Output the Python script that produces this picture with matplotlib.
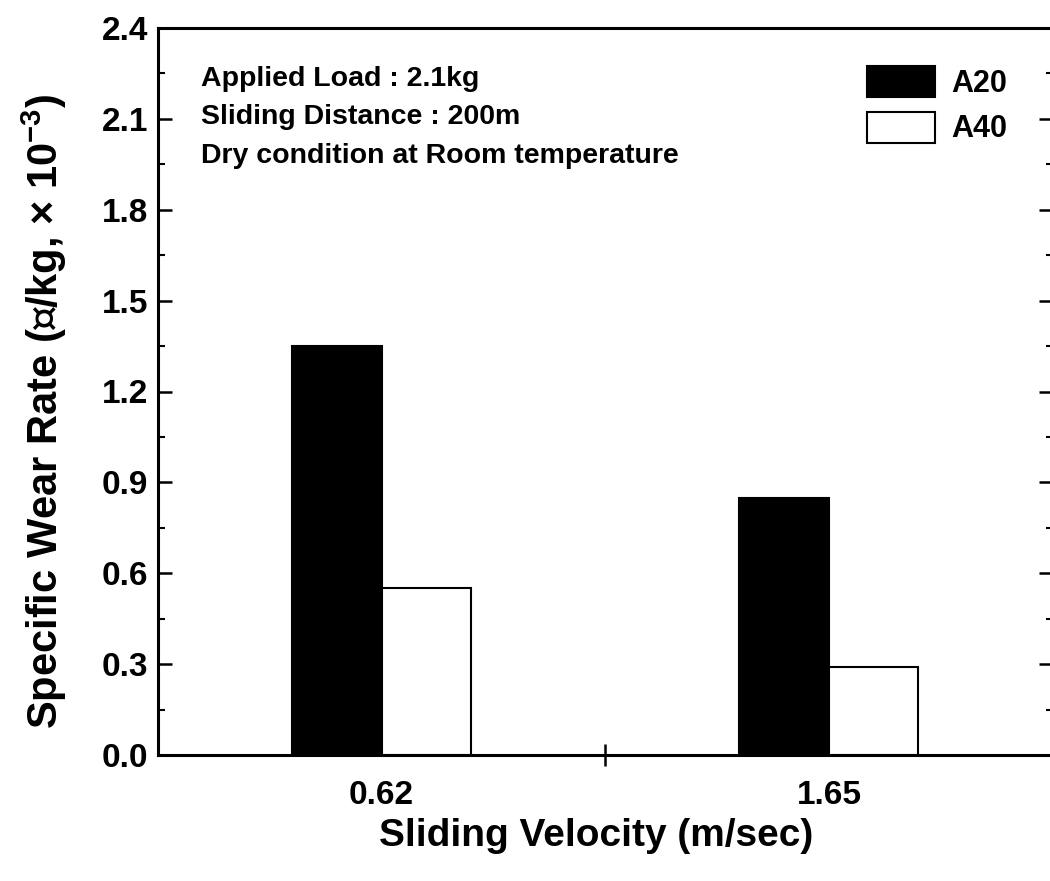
import numpy as np
import matplotlib.pyplot as plt
from matplotlib.ticker import MultipleLocator, FixedLocator

plt.rcParams['font.family'] = ['Liberation Sans', 'Noto Sans CJK KR', 'DejaVu Sans']
plt.rcParams['font.weight'] = 'bold'
plt.rcParams['mathtext.fontset'] = 'custom'
plt.rcParams['mathtext.rm'] = 'Liberation Sans:bold'
plt.rcParams['mathtext.bf'] = 'Liberation Sans:bold'

velocities = ['0.62', '1.65']
series = ['A20', 'A40']
a20 = [1.35, 0.85]
a40 = [0.55, 0.29]
notes = ['Applied Load : 2.1kg', 'Sliding Distance : 200m',
         'Dry condition at Room temperature']

W, H = 1050, 881
fig = plt.figure(figsize=(W / 100, H / 100), dpi=100)
ax = fig.add_axes([158 / W, 1 - 755 / H, 894.6 / W, 727 / H])

x = np.arange(len(velocities))
w = 0.2
ax.bar(x - w / 2, a20, w, color='black', edgecolor='black', linewidth=1.5, label=series[0])
ax.bar(x + w / 2, a40, w, color='white', edgecolor='black', linewidth=1.5, label=series[1])

ax.set_xlim(-0.5, 1.5)
ax.set_ylim(0, 2.4)
ax.set_xticks(x)
ax.set_xticklabels(velocities)
ax.xaxis.set_minor_locator(FixedLocator([0.5]))
ax.yaxis.set_major_locator(MultipleLocator(0.3))
ax.yaxis.set_minor_locator(MultipleLocator(0.15))
ax.yaxis.set_major_formatter(plt.FormatStrFormatter('%.1f'))

for s in ax.spines.values():
    s.set_linewidth(2.2)
ax.tick_params(axis='y', which='major', direction='in', length=10, width=1.8,
               labelsize=24, right=True, pad=7)
ax.tick_params(axis='y', which='minor', direction='in', length=5, width=1.5, right=True)
ax.tick_params(axis='x', which='major', direction='in', length=0, labelsize=24, pad=18)
ax.tick_params(axis='x', which='minor', direction='inout', length=16, width=1.8)

fig.text(596 / W, 1 - 836 / H, 'Sliding Velocity (m/sec)', fontsize=28,
         fontweight='bold', ha='center', va='center')
fig.text(44 / W, 1 - 412 / H, 'Specific Wear Rate (㎣/kg, × 10$^{\\mathbf{-3}}$)',
         fontsize=30, fontweight='bold', rotation=90, ha='center', va='center')

for i, t in enumerate(notes):
    fig.text(201 / W, 1 - [86, 124, 163][i] / H, t, fontsize=20.5, va='baseline')

fig.legend(loc='upper left', bbox_to_anchor=(867 / W, 1 - 66 / H), frameon=False,
           fontsize=22, handlelength=2.22, handleheight=1.18, handletextpad=0.55,
           labelspacing=0.42, borderpad=0, borderaxespad=0)

fig.savefig('out.png', dpi=100)
